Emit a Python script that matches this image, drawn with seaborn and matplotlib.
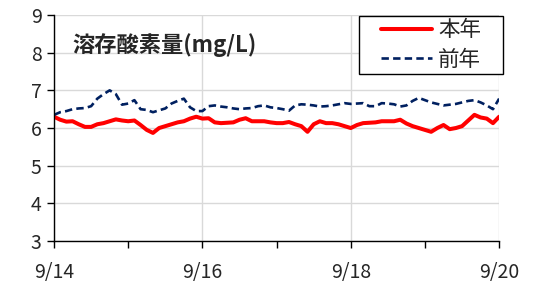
import matplotlib
matplotlib.use("Agg")
import matplotlib.pyplot as plt
import matplotlib.dates as mdates
from matplotlib.patches import Rectangle
import seaborn as sns
import pandas as pd

# readings every 2 hours, 9/14 00:00 -> 9/20 00:00
start = "2020-09-14"
step = "2h"
this_year = [
    6.30, 6.22, 6.17, 6.18, 6.10, 6.03, 6.03, 6.10, 6.13, 6.18, 6.23, 6.20,
    6.18, 6.20, 6.08, 5.95, 5.87, 6.00, 6.05, 6.10, 6.15, 6.18, 6.25, 6.30,
    6.25, 6.26, 6.15, 6.13, 6.14, 6.15, 6.22, 6.26, 6.18, 6.18, 6.18, 6.15,
    6.13, 6.13, 6.16, 6.10, 6.05, 5.90, 6.10, 6.18, 6.13, 6.13, 6.10, 6.05,
    6.00, 6.08, 6.13, 6.14, 6.15, 6.18, 6.18, 6.18, 6.22, 6.12, 6.05, 6.00,
    5.95, 5.90, 6.00, 6.08, 5.97, 6.00, 6.05, 6.20, 6.35, 6.28, 6.25, 6.13,
    6.30,
]
last_year = [
    6.35, 6.42, 6.45, 6.50, 6.52, 6.53, 6.58, 6.78, 6.90, 7.00, 6.90, 6.62,
    6.65, 6.74, 6.50, 6.48, 6.42, 6.47, 6.52, 6.65, 6.72, 6.78, 6.55, 6.45,
    6.45, 6.58, 6.60, 6.57, 6.55, 6.52, 6.50, 6.52, 6.53, 6.58, 6.60, 6.55,
    6.53, 6.50, 6.46, 6.60, 6.63, 6.62, 6.60, 6.57, 6.58, 6.60, 6.63, 6.66,
    6.64, 6.65, 6.66, 6.58, 6.58, 6.66, 6.65, 6.63, 6.57, 6.60, 6.72, 6.80,
    6.74, 6.68, 6.64, 6.60, 6.62, 6.64, 6.68, 6.72, 6.74, 6.68, 6.60, 6.50,
    6.78,
]
series_names = ["本年", "前年"]
title = "溶存酸素量(mg/L)"

times = pd.date_range(start, periods=len(this_year), freq=step)
df = pd.DataFrame({"time": list(times) * 2,
                   "value": this_year + last_year,
                   "series": [series_names[0]] * len(this_year) + [series_names[1]] * len(last_year)})

sns.set_style("white")
plt.rcParams["font.family"] = ["Noto Sans CJK JP", "DejaVu Sans"]

fig = plt.figure(figsize=(5.35, 2.89), dpi=100)
ax = fig.add_axes([0.101, 0.166, 0.832, 0.782])

sns.lineplot(data=df, x="time", y="value", hue="series", style="series",
             palette={"本年": "#ff0000", "前年": "#002060"},
             dashes={"本年": "", "前年": (2.8, 1.6)},
             size="series", sizes={"本年": 2.9, "前年": 1.9},
             ax=ax, legend=True)

ax.set_ylim(3, 9)
ax.set_xlim(times[0], times[-1])
ax.set_yticks(range(3, 10))
ax.xaxis.set_major_locator(mdates.DayLocator(interval=2))
ax.xaxis.set_minor_locator(mdates.DayLocator(bymonthday=[15, 17, 19]))
ax.xaxis.set_major_formatter(plt.FuncFormatter(
    lambda v, p: f"{mdates.num2date(v).month}/{mdates.num2date(v).day}"))
ax.grid(True, which="major", color="#d9d9d9", linewidth=1)
ax.set_axisbelow(True)
ax.set_xlabel("")
ax.set_ylabel("")
for s in ["top", "right"]:
    ax.spines[s].set_visible(False)
for s in ["left", "bottom"]:
    ax.spines[s].set_color("black")
    ax.spines[s].set_linewidth(1)
ax.tick_params(axis="both", which="major", direction="out", length=5, width=1,
               color="black", labelsize=14, pad=4)
ax.tick_params(axis="x", which="major", pad=10)
ax.tick_params(axis="x", which="minor", direction="out", length=5, width=1, color="black")
ax.tick_params(axis="x", which="both", bottom=True)
ax.tick_params(axis="y", left=True)

ax.text(0.042, 0.867, title, transform=ax.transAxes, fontsize=16,
        fontweight="bold", va="center", ha="left")

# legend box drawn separately so its padding can match
ax.add_patch(Rectangle((0.685, 0.739), 0.324, 0.257, transform=ax.transAxes,
                       facecolor="white", edgecolor="black", linewidth=1,
                       clip_on=False, zorder=4))
handles, labels = ax.get_legend_handles_labels()
leg = ax.legend(handles, labels, loc="center left", bbox_to_anchor=(0.735, 0.867),
                fontsize=15.5, frameon=False, handlelength=2.37,
                borderpad=0, labelspacing=0.35, handletextpad=0.28,
                borderaxespad=0)
leg.set_zorder(5)

fig.savefig("out.png", dpi=100)
